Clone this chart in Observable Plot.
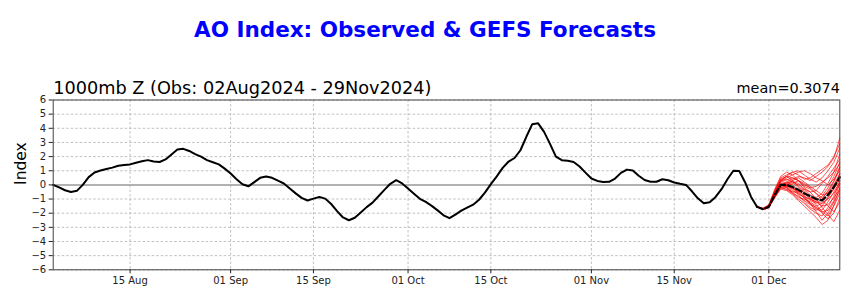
<!DOCTYPE html>
<html><head><meta charset="utf-8">
<script src="https://cdn.jsdelivr.net/npm/d3@7"></script>
<script src="https://cdn.jsdelivr.net/npm/@observablehq/plot@0.6"></script>
<style>body{margin:0;background:#fff;} #chart svg{display:block;}</style>
</head><body><div id="chart"></div>
<script>
// ---- data ----
const obsStart = "2024-08-02";
const fcstStart = "2024-11-29";
const xDomain = ["2024-08-02", "2024-12-13"];
const xTickDates = ["2024-08-15","2024-09-01","2024-09-15","2024-10-01","2024-10-15","2024-11-01","2024-11-15","2024-12-01"];
const yTicks = [-6,-5,-4,-3,-2,-1,0,1,2,3,4,5,6];
const titleText = "AO Index: Observed & GEFS Forecasts";
const subtitleText = "1000mb Z (Obs: 02Aug2024 - 29Nov2024)";
const meanText = "mean=0.3074";
const yLabelText = "Index";

const obsValues = [
  0.0,-0.18,-0.38,-0.5,-0.42,0.0,0.55,0.88,1.02,1.12,
  1.22,1.35,1.4,1.45,1.57,1.67,1.75,1.65,1.62,1.8,
  2.15,2.5,2.55,2.4,2.18,2.0,1.75,1.6,1.45,1.15,
  0.8,0.4,0.05,-0.1,0.2,0.5,0.6,0.5,0.3,0.1,
  -0.25,-0.6,-0.92,-1.1,-0.97,-0.86,-0.97,-1.35,-1.85,-2.3,
  -2.5,-2.32,-1.95,-1.57,-1.25,-0.8,-0.35,0.08,0.33,0.1,
  -0.25,-0.62,-0.98,-1.2,-1.48,-1.8,-2.15,-2.35,-2.1,-1.82,
  -1.6,-1.4,-1.05,-0.55,0.05,0.6,1.2,1.65,1.9,2.45,
  3.4,4.29,4.35,3.75,2.9,2.0,1.75,1.7,1.62,1.3,
  0.87,0.45,0.28,0.2,0.22,0.45,0.85,1.08,1.02,0.65,
  0.35,0.22,0.22,0.4,0.33,0.17,0.08,0.0,-0.45,-0.95,
  -1.3,-1.22,-0.85,-0.3,0.4,1.0,0.98,0.17,-0.85,-1.55
];

const meanValues = [-1.55,-1.72,-1.55,-0.7,0.0,0.0,-0.15,-0.35,-0.6,-0.8,-1.0,-1.1,-0.7,-0.15,0.55];

const members = [
  [-1.55,-1.7,-1.5,-0.6,0.3,0.4,0.2,-0.2,-0.6,-1.0,-1.2,-1.3,-0.9,-0.3,0.4],
  [-1.55,-1.75,-1.6,-0.8,-0.1,0.2,0.4,0.6,0.5,0.3,0.6,0.9,1.3,1.9,3.3],
  [-1.55,-1.65,-1.4,-0.4,0.5,0.7,0.9,1.0,0.7,0.4,0.2,0.5,1.0,1.6,2.6],
  [-1.55,-1.7,-1.55,-0.9,-0.3,-0.4,-0.7,-1.1,-1.5,-1.9,-2.3,-2.8,-2.5,-1.4,-0.2],
  [-1.55,-1.72,-1.5,-0.7,0.0,-0.2,-0.6,-1.0,-1.3,-1.7,-2.0,-2.2,-1.6,-0.8,0.3],
  [-1.55,-1.7,-1.45,-0.3,0.6,0.9,0.7,0.3,-0.1,-0.3,-0.6,-0.9,-0.5,0.2,1.2],
  [-1.55,-1.75,-1.6,-0.75,-0.05,0.0,0.2,0.0,-0.4,-0.9,-1.4,-1.9,-2.2,-1.5,-0.6],
  [-1.55,-1.68,-1.5,-0.6,0.3,0.6,0.5,0.3,-0.2,-0.5,-0.4,0.1,0.6,1.2,1.8],
  [-1.55,-1.7,-1.52,-0.65,0.05,-0.1,-0.3,-0.7,-1.2,-1.6,-1.8,-1.5,-0.9,-0.2,0.8],
  [-1.55,-1.73,-1.58,-0.85,-0.2,-0.3,-0.5,-0.5,-0.3,-0.5,-1.0,-1.6,-2.1,-2.6,-1.8],
  [-1.55,-1.7,-1.48,-0.55,0.25,0.5,0.7,0.9,1.0,0.8,0.5,0.3,0.0,0.4,1.0],
  [-1.55,-1.7,-1.55,-0.7,-0.05,-0.2,-0.5,-0.9,-1.0,-1.2,-1.5,-1.3,-1.0,-0.6,0.0],
  [-1.55,-1.66,-1.45,-0.45,0.4,0.6,0.3,-0.1,-0.5,-0.9,-1.1,-0.8,-0.2,0.6,1.6],
  [-1.55,-1.74,-1.62,-0.9,-0.25,-0.1,0.1,0.3,0.1,-0.2,-0.6,-1.1,-1.5,-1.9,-1.2],
  [-1.55,-1.7,-1.5,-0.6,0.05,0.1,-0.2,-0.6,-0.9,-1.3,-1.6,-2.0,-2.4,-2.0,-0.9],
  [-1.55,-1.69,-1.47,-0.45,0.35,0.6,0.9,0.7,0.4,0.5,0.8,1.1,1.4,2.0,2.9],
  [-1.55,-1.71,-1.53,-0.68,0.0,-0.05,-0.25,-0.45,-0.8,-1.3,-1.9,-2.5,-2.0,-1.2,-0.4],
  [-1.55,-1.72,-1.56,-0.75,-0.1,0.05,0.3,0.5,0.2,-0.1,-0.4,-0.7,-0.6,0.0,0.8],
  [-1.55,-1.7,-1.5,-0.62,0.1,0.2,0.0,-0.35,-0.75,-1.1,-1.3,-1.0,-0.4,0.3,1.3],
  [-1.55,-1.7,-1.55,-0.8,-0.15,-0.35,-0.6,-0.8,-1.1,-1.4,-1.7,-1.9,-1.8,-1.1,0.1],
  [-1.55,-1.68,-1.48,-0.52,0.2,0.35,0.5,0.3,0.0,-0.2,-0.1,0.2,0.5,0.9,1.5],
  [-1.55,-1.73,-1.57,-0.78,-0.05,0.0,-0.15,-0.5,-0.95,-1.35,-1.6,-1.8,-1.2,-0.5,0.2],
  [-1.55,-1.7,-1.52,-0.66,0.0,0.15,0.25,0.1,-0.3,-0.7,-0.9,-0.6,0.1,0.9,2.2],
  [-1.55,-1.71,-1.54,-0.7,-0.02,-0.15,-0.4,-0.65,-0.85,-1.0,-1.2,-1.5,-1.4,-0.9,-0.3]
];

// ---- build tables ----
const DAY = 864e5;
const t0 = new Date(obsStart + "T00:00:00Z");
const f0 = new Date(fcstStart + "T00:00:00Z");
const obs = obsValues.map((v, i) => ({date: new Date(+t0 + i * DAY), v}));
const mean = meanValues.map((v, i) => ({date: new Date(+f0 + i * DAY), v}));
const memberRows = members.flatMap((arr, m) => arr.map((v, i) => ({m, date: new Date(+f0 + i * DAY), v})));
const xTicks = xTickDates.map(s => new Date(s + "T00:00:00Z"));
const fmtY = d => d < 0 ? "\u2212" + (-d) : String(d);

const chart = Plot.plot({
  width: 850,
  height: 304,
  marginTop: 99.5,
  marginBottom: 34.7,
  marginLeft: 52.7,
  marginRight: 10.7,
  style: {fontFamily: "DejaVu Sans", fontSize: "10px", color: "#222", background: "#fff", overflow: "visible"},
  x: {type: "utc", domain: xDomain.map(s => new Date(s + "T00:00:00Z"))},
  y: {domain: [-6, 6]},
  marks: [
    Plot.gridY(yTicks.filter(d => d !== 0), {stroke: "#b0b0b0", strokeOpacity: 1, strokeWidth: 0.8, strokeDasharray: "2.5,2"}),
    Plot.gridX(xTicks, {stroke: "#b0b0b0", strokeOpacity: 1, strokeWidth: 0.8, strokeDasharray: "2.5,2"}),
    Plot.ruleY([0], {stroke: "#999", strokeWidth: 1.5}),
    Plot.line(obs, {x: "date", y: "v", stroke: "#000", strokeWidth: 2}),
    Plot.line(memberRows, {x: "date", y: "v", z: "m", stroke: "#ff0000", strokeWidth: 0.9, strokeOpacity: 0.75}),
    Plot.line(mean, {x: "date", y: "v", stroke: "#000", strokeWidth: 2.2, strokeDasharray: "6,3"}),
    Plot.frame({stroke: "#444", strokeWidth: 1}),
    Plot.axisX(xTicks, {tickFormat: d3.utcFormat("%d %b"), tickSize: 4, tickPadding: 3, label: null, fontSize: 10}),
    Plot.axisY(yTicks, {tickFormat: fmtY, tickSize: 4, tickPadding: 3, label: null, fontSize: 10}),
    Plot.text([titleText], {text: d => d, frameAnchor: "top", dx: -21.5, dy: -63.5, lineAnchor: "bottom", fontSize: 21.5, fontWeight: "bold", fill: "#0000ff"}),
    Plot.text([subtitleText], {text: d => d, frameAnchor: "top-left", textAnchor: "start", lineAnchor: "bottom", dy: -6.2, fontSize: 17.7, fill: "#000"}),
    Plot.text([meanText], {text: d => d, frameAnchor: "top-right", textAnchor: "end", lineAnchor: "bottom", dy: -6.8, fontSize: 14.4, fill: "#000"}),
    Plot.text([yLabelText], {text: d => d, frameAnchor: "left", rotate: -90, lineAnchor: "bottom", dx: -27.7, fontSize: 15.5, fill: "#000"})
  ]
});
document.getElementById("chart").append(chart);
</script>
</body></html>
